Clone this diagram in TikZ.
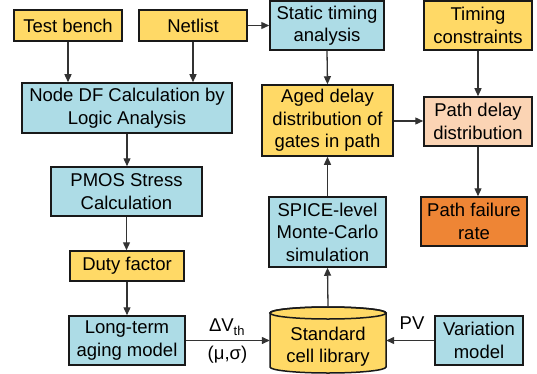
\documentclass[tikz,border=0pt]{standalone}
\usepackage{fontspec}
\setmainfont{Liberation Sans}
\usetikzlibrary{arrows.meta}
\definecolor{boxyellow}{HTML}{FFD966}
\definecolor{boxblue}{HTML}{ADDCE6}
\definecolor{boxpeach}{HTML}{FBD4B4}
\definecolor{boxorange}{HTML}{EE8535}
\definecolor{edgegray}{HTML}{333333}
\tikzset{
  base/.style={draw=black!90, line width=1.5pt, align=center, inner sep=0pt,
    font=\fontsize{18.5}{22.5}\selectfont},
  ybox/.style={base, fill=boxyellow},
  bbox/.style={base, fill=boxblue},
  pbox/.style={base, fill=boxpeach},
  obox/.style={base, fill=boxorange},
  conn/.style={draw=edgegray, line width=1.3pt, -{Triangle[length=8pt,width=7pt]}},
  lbl/.style={font=\fontsize{18.5}{22.5}\selectfont, inner sep=0pt}
}
\begin{document}
\begin{tikzpicture}[x=1pt,y=-1pt]
\useasboundingbox (0,0) rectangle (537,374);

% input boxes
\node[ybox, minimum width=108, minimum height=31] (tb)  at (68,25.5)  {Test bench};
\node[ybox, minimum width=108, minimum height=31] (net) at (193,25.5) {Netlist};
\node[bbox, minimum width=114, minimum height=49] (sta) at (327,25.5) {Static timing\\analysis};
\node[ybox, minimum width=108, minimum height=49] (tc)  at (478,25.5) {Timing\\constraints};

% aging flow
\node[bbox, minimum width=210, minimum height=50] (ndf)  at (127,108)   {Node DF Calculation by\\Logic Analysis};
\node[bbox, minimum width=151, minimum height=49] (pmos) at (126.5,191.5) {PMOS Stress\\Calculation};
\node[ybox, minimum width=114, minimum height=30] (duty) at (127,266)   {Duty factor};
\node[bbox, minimum width=116, minimum height=49] (ltm)  at (127,340.5) {Long-term\\aging model};

% timing flow
\node[ybox, minimum width=131, minimum height=71] (aged)  at (327.5,120.5) {Aged delay\\distribution of\\gates in path};
\node[pbox, minimum width=108, minimum height=49] (pdd)   at (478,121.5)   {Path delay\\distribution};
\node[bbox, minimum width=117, minimum height=70] (spice) at (327.5,232)   {SPICE-level\\Monte-Carlo\\simulation};
\node[obox, minimum width=106, minimum height=49] (pfr)   at (474,221.5)   {Path failure\\rate};
\node[bbox, minimum width=88,  minimum height=49] (var)   at (479,340.5)   {Variation\\model};

% standard cell library (cylinder)
\path[fill=boxyellow, draw=black!90, line width=1.5pt]
  (270,313) -- (270,367)
  arc[start angle=180, end angle=360, x radius=58pt, y radius=6pt]
  -- (386,313)
  arc[start angle=0, end angle=180, x radius=58pt, y radius=6pt] -- cycle;
\draw[black!90, line width=1.5pt] (328,313) ellipse [x radius=58pt, y radius=6pt];
\node[inner sep=0pt, minimum width=116, minimum height=66] (lib) at (328,340) {};
\node[lbl, align=center] (libtext) at (328,346.5) {Standard\\cell library};

% connectors
\draw[conn] (tb.south) -- (tb.south |- ndf.north);
\draw[conn] (net.south) -- (net.south |- ndf.north);
\draw[conn] (net.east) -- (sta.west |- net.east);
\draw[conn] (sta.south) -- (aged.north);
\draw[conn] (tc.south) -- (pdd.north);
\draw[conn] (aged.east |- 0,121) -- (pdd.west |- 0,121);
\draw[conn] (pdd.south) -- (pdd.south |- pfr.north);
\draw[conn] (ndf.south) -- (ndf.south |- pmos.north);
\draw[conn] (pmos.south) -- (pmos.south |- duty.north);
\draw[conn] (duty.south) -- (duty.south |- ltm.north);
\draw[conn] (ltm.east) -- (lib.west |- ltm.east);
\draw[conn] (var.west) -- (lib.east |- var.west);
\draw[conn] (lib.north) -- (spice.south);
\draw[conn] (spice.north) -- (aged.south);

% edge labels
\node[lbl] (dvth) at (227,327) {ΔV\textsubscript{th}};
\node[lbl] (musig) at (227.5,355) {(μ,σ)};
\node[lbl] (pv) at (412,323) {PV};
\end{tikzpicture}
\end{document}
